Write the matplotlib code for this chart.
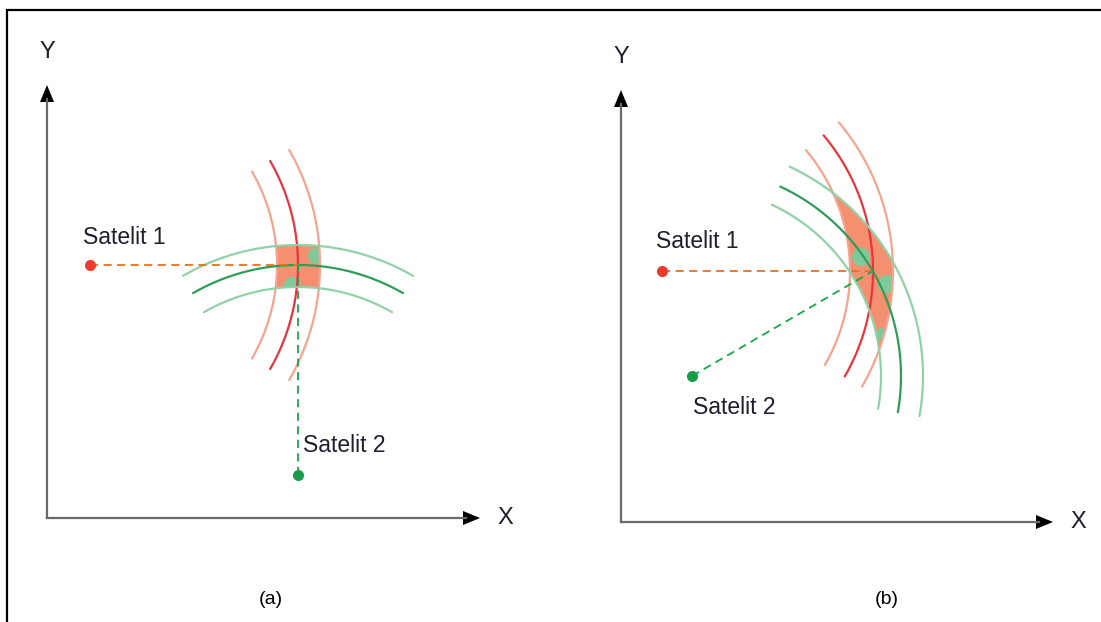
import numpy as np
import matplotlib
matplotlib.use("Agg")
import matplotlib.pyplot as plt
from matplotlib.patches import Polygon, Circle

plt.rcParams["font.family"] = ["Liberation Sans", "DejaVu Sans"]

# diagram geometry, in pixels of the 1101x622 picture (y grows downwards)
panel_names = ["(a)", "(b)"]
name_pos = [(271, 599), (887, 599)]
origins = [(47, 518), (621, 522)]
y_tips = [85, 90]
x_tips = [480, 1053]
sat1 = [(90, 265), (662, 271)]
sat2 = [(298, 475), (692, 376)]
sat1_label = [(83, 237), (656, 242)]
sat2_label = [(303, 446), (693, 407)]
# inner, main, outer radius of each range ring
radii_red = [(187, 208, 230), (188, 211, 231)]
radii_green = [(188, 210, 230), (189, 209, 231)]
# angular span of the drawn arcs, degrees
span_red = [(-30, 30), (-40, 30)]
span_green = [(-120, -60), (-65, 10)]
# small green patches inside the overlap: x, y, radius
blobs = [[(316, 256, 8), (292, 285, 8)],
         [(861, 257, 9), (887, 284, 9), (882, 334, 6)]]

RED = "#e8343f"
RED_LIGHT = "#f5a48f"
GREEN = "#2e9d57"
GREEN_LIGHT = "#92d1a8"
SALMON = "#f4906f"
BLOB = "#7fc99a"
TEXT = "#1e1e2e"


def arc_xy(c, r, t0, t1, n=200):
    t = np.radians(np.linspace(t0, t1, n))
    return c[0] + r * np.cos(t), c[1] + r * np.sin(t)


def meet(c1, r1, c2, r2):
    # right-hand intersection of two circles
    c1, c2 = np.asarray(c1, float), np.asarray(c2, float)
    d = np.linalg.norm(c2 - c1)
    u = (c2 - c1) / d
    a = (r1 ** 2 - r2 ** 2 + d ** 2) / (2 * d)
    h = np.sqrt(r1 ** 2 - a ** 2)
    perp = np.array([-u[1], u[0]])
    p, q = c1 + a * u + h * perp, c1 + a * u - h * perp
    return p if p[0] > q[0] else q


def ang(c, p):
    return np.degrees(np.arctan2(p[1] - c[1], p[0] - c[0]))


def arc_between(c, r, p, q):
    a0, a1 = ang(c, p), ang(c, q)
    if a1 - a0 > 180:
        a1 -= 360
    if a0 - a1 > 180:
        a1 += 360
    x, y = arc_xy(c, r, a0, a1, 60)
    return np.column_stack([x, y])


fig = plt.figure(figsize=(11.01, 6.22), dpi=100)
ax = fig.add_axes([0, 0, 1, 1])
ax.set_xlim(0, 1101)
ax.set_ylim(622, 0)
ax.axis("off")

# frame
ax.plot([7, 7, 1101], [622, 10, 10], color="black", lw=1.6, solid_joinstyle="miter")

for i in range(2):
    ox, oy = origins[i]
    # axes with arrow heads
    ax.plot([ox, ox], [oy, y_tips[i] + 14], color="#6a6a6a", lw=1.6)
    ax.plot([ox, x_tips[i] - 14], [oy, oy], color="#6a6a6a", lw=1.6)
    ax.add_patch(Polygon([(ox, y_tips[i]), (ox - 7, y_tips[i] + 17), (ox + 7, y_tips[i] + 17)],
                         closed=True, color="black", lw=0))
    ax.add_patch(Polygon([(x_tips[i], oy), (x_tips[i] - 17, oy - 7), (x_tips[i] - 17, oy + 7)],
                         closed=True, color="black", lw=0))
    ax.text(ox, y_tips[i] - 33, "Y", fontsize=17, ha="center", va="center", color=TEXT)
    ax.text(x_tips[i] + 25, oy, "X", fontsize=17, ha="center", va="center", color=TEXT)
    ax.text(name_pos[i][0], name_pos[i][1], panel_names[i], fontsize=14,
            ha="center", va="center", color="black")

    s1, s2 = sat1[i], sat2[i]
    ri, rm, ro = radii_red[i]
    gi, gm, go = radii_green[i]

    # overlap of the two range rings
    corners = [meet(s1, ri, s2, go), meet(s1, ri, s2, gi),
               meet(s1, ro, s2, gi), meet(s1, ro, s2, go)]
    outline = np.vstack([
        arc_between(s1, ri, corners[0], corners[1]),
        arc_between(s2, gi, corners[1], corners[2]),
        arc_between(s1, ro, corners[2], corners[3]),
        arc_between(s2, go, corners[3], corners[0]),
    ])
    overlap = Polygon(outline, closed=True, facecolor=SALMON, edgecolor="none", zorder=1)
    ax.add_patch(overlap)
    for bx, by, br in blobs[i]:
        blob = Circle((bx, by), br, facecolor=BLOB, edgecolor="none", zorder=1.5)
        ax.add_patch(blob)
        blob.set_clip_path(overlap)

    # range arcs
    for r, col in [(ri, RED_LIGHT), (ro, RED_LIGHT), (rm, RED)]:
        x, y = arc_xy(s1, r, *span_red[i])
        ax.plot(x, y, color=col, lw=1.6, zorder=2, solid_capstyle="round")
    for r, col in [(gi, GREEN_LIGHT), (go, GREEN_LIGHT), (gm, GREEN)]:
        x, y = arc_xy(s2, r, *span_green[i])
        ax.plot(x, y, color=col, lw=1.6, zorder=2, solid_capstyle="round")

    # lines of sight to the fix (where the main red arc crosses satellite 1's level)
    fix = (s1[0] + rm, s1[1])
    ax.plot([s1[0], fix[0]], [s1[1], fix[1]], color="#e8711f", lw=1.3,
            dashes=(4.5, 3), zorder=3)
    ax.plot([s2[0], fix[0]], [s2[1], fix[1]], color="#17a74a", lw=1.3,
            dashes=(4.5, 3), zorder=3)

    ax.plot(*s1, "o", color="#ee3b2b", ms=8, mec="none", zorder=4)
    ax.plot(*s2, "o", color="#1a9d4a", ms=8, mec="none", zorder=4)
    ax.text(*sat1_label[i], "Satelit 1", fontsize=16.5, ha="left", va="center", color=TEXT)
    ax.text(*sat2_label[i], "Satelit 2", fontsize=16.5, ha="left", va="center", color=TEXT)

fig.savefig("out.png", dpi=100)
